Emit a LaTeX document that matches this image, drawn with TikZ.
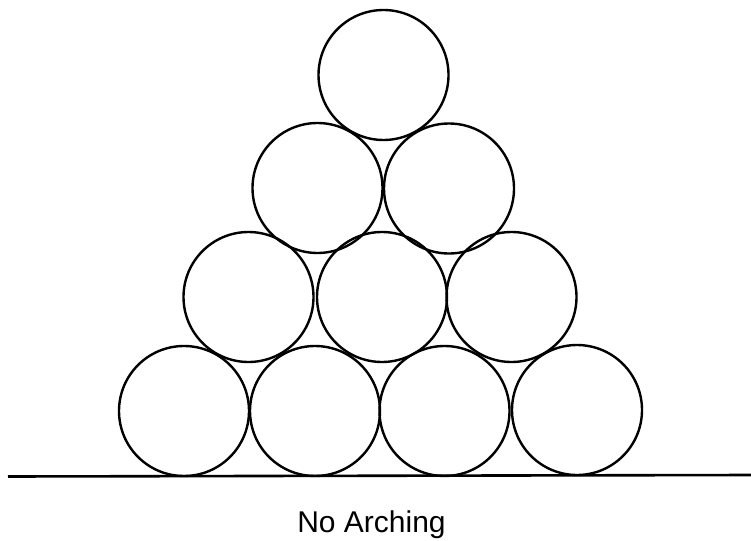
\documentclass[tikz,border=0pt]{standalone}
\usepackage{fontspec}
\setmainfont{Liberation Sans}
\begin{document}
\begin{tikzpicture}[x=1pt,y=-1pt,
  ball/.style={circle,draw,line width=2.4pt,minimum size=130pt,inner sep=0pt},
  ground/.style={line width=2.6pt},
  caption/.style={font=\fontsize{30}{36}\selectfont,anchor=base}]
\useasboundingbox (0,0) rectangle (751,540);
% bottom row
\node[ball] (b1) at (184,411) {};
\node[ball] (b2) at (315,411) {};
\node[ball] (b3) at (444.5,411) {};
\node[ball] (b4) at (577,410) {};
% second row
\node[ball] (m1) at (248.5,297) {};
\node[ball] (m2) at (382,297) {};
\node[ball] (m3) at (511.5,297) {};
% third row
\node[ball] (t1) at (317.5,188) {};
\node[ball] (t2) at (449,188.5) {};
% top
\node[ball] (top) at (383.5,75) {};
% ground line
\coordinate (gl) at (8,476.5);
\coordinate (gr) at (751,475);
\draw[ground] (gl) -- (gr);
\node[caption] (cap) at (371.5,532) {No Arching};
\end{tikzpicture}
\end{document}
